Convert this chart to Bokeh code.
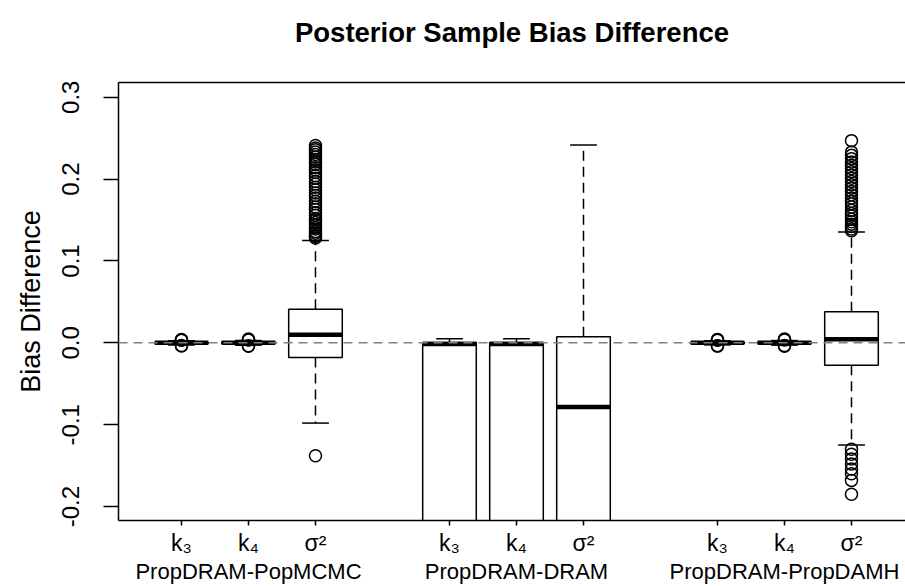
from bokeh.plotting import figure
from bokeh.models import LinearAxis, FixedTicker, Range1d, Span
from bokeh.embed import file_html
from bokeh.resources import INLINE

# ---- data ----
title_text = "Posterior Sample Bias Difference"
groups = ["PropDRAM-PopMCMC", "PropDRAM-DRAM", "PropDRAM-PropDAMH"]
params = ["k\u2083", "k\u2084", "\u03c3\u00b2"]

# order: group1 k3,k4,s2 | group2 k3,k4,s2 | group3 k3,k4,s2
q1 = [-0.0008, -0.0009, -0.018, -0.35, -0.36, -0.26, -0.0008, -0.0009, -0.0274]
med = [0.0, 0.0, 0.010, -0.0015, -0.0015, -0.0785, 0.0, 0.0, 0.0045]
q3 = [0.0008, 0.0009, 0.041, 0.0004, 0.0004, 0.0074, 0.0008, 0.0009, 0.038]
wlo = [-0.0025, -0.0028, -0.098, -0.78, -0.80, -0.62, -0.0025, -0.0028, -0.1248]
whi = [0.0025, 0.0028, 0.125, 0.005, 0.005, 0.2417, 0.0025, 0.0028, 0.1353]

out_g1_k3 = [-0.0038, -0.0033, 0.0032, 0.0036, 0.0041]
out_g1_k4 = [-0.0042, -0.0035, 0.0034, 0.0039, 0.0046]
out_g1_s2 = [-0.138, 0.128, 0.130, 0.131, 0.134, 0.136, 0.139, 0.141, 0.144,
             0.147, 0.150, 0.152, 0.156, 0.159, 0.163, 0.166, 0.170, 0.173,
             0.177, 0.180, 0.183, 0.187, 0.190, 0.194, 0.197, 0.201, 0.204,
             0.208, 0.211, 0.214, 0.218, 0.221, 0.224, 0.227, 0.230, 0.233,
             0.236, 0.238, 0.241]
out_g3_k3 = [-0.0040, -0.0034, 0.0031, 0.0037, 0.0042]
out_g3_k4 = [-0.0041, -0.0033, 0.0035, 0.0040, 0.0047]
out_g3_s2 = [-0.185, -0.168, -0.160, -0.154, -0.148, -0.142, -0.136, -0.130,
             0.137, 0.139, 0.142, 0.145, 0.148, 0.151, 0.155, 0.158, 0.162,
             0.166, 0.170, 0.173, 0.177, 0.181, 0.185, 0.189, 0.193, 0.197,
             0.201, 0.205, 0.209, 0.213, 0.217, 0.221, 0.225, 0.229, 0.233,
             0.247]
outliers = [out_g1_k3, out_g1_k4, out_g1_s2, [], [], [],
            out_g3_k3, out_g3_k4, out_g3_s2]

y_ticks = [-0.2, -0.1, 0.0, 0.1, 0.2, 0.3]
y_tick_labels = ["-0.2", "-0.1", "0.0", "0.1", "0.2", "0.3"]

# ---- positions (boxes 1-3, 5-7, 9-11) ----
pos = [g * 4 + k + 1 for g in range(len(groups)) for k in range(len(params))]
group_pos = [g * 4 + 2 for g in range(len(groups))]
box_w = 0.8

FONT = "Liberation Sans"

p = figure(width=905, height=586, title=None,
           x_range=Range1d(0.06, 11.806), y_range=Range1d(-0.217, 0.318),
           output_backend="svg", toolbar_location=None,
           min_border_left=118, min_border_right=0,
           min_border_top=82, min_border_bottom=10)
p.grid.grid_line_color = None
p.outline_line_color = None
p.background_fill_color = "white"
p.border_fill_color = "white"

# whiskers
p.segment(x0=pos, y0=q3, x1=pos, y1=whi, line_color="black", line_width=1.5, line_dash="10 6")
p.segment(x0=pos, y0=q1, x1=pos, y1=wlo, line_color="black", line_width=1.5, line_dash="10 6")
# caps
p.segment(x0=[x - box_w / 4 for x in pos], y0=whi, x1=[x + box_w / 4 for x in pos], y1=whi,
          line_color="black", line_width=1.5)
p.segment(x0=[x - box_w / 4 for x in pos], y0=wlo, x1=[x + box_w / 4 for x in pos], y1=wlo,
          line_color="black", line_width=1.5)
# boxes
p.quad(left=[x - box_w / 2 for x in pos], right=[x + box_w / 2 for x in pos],
       bottom=q1, top=q3, fill_color="white", line_color="black", line_width=1.5)
# medians
p.segment(x0=[x - box_w / 2 for x in pos], y0=med, x1=[x + box_w / 2 for x in pos], y1=med,
          line_color="black", line_width=4.5)
# outliers
ox, oy = [], []
for x, vals in zip(pos, outliers):
    ox += [x] * len(vals)
    oy += vals
p.scatter(ox, oy, marker="circle", size=12, fill_color=None, line_color="black", line_width=1.5)

# zero reference line
p.add_layout(Span(location=0, dimension="width", line_color="#808080", line_width=1.5,
                  line_dash="9 6"))

# y axis
ya = p.yaxis[0]
ya.ticker = FixedTicker(ticks=y_ticks)
ya.major_label_overrides = {t: l for t, l in zip(y_ticks, y_tick_labels)}
ya.major_label_orientation = "vertical"
ya.major_tick_out = 15
ya.major_tick_in = 0
ya.minor_tick_line_color = None
ya.major_tick_line_width = 1.5
ya.axis_line_width = 1.5
ya.major_label_text_font = FONT
ya.major_label_text_font_size = "24px"
ya.major_label_text_color = "black"
ya.major_label_standoff = 24
ya.axis_label = "Bias Difference"
ya.axis_label_text_font = FONT
ya.axis_label_text_font_style = "normal"
ya.axis_label_text_font_size = "27px"
ya.axis_label_text_color = "black"
ya.axis_label_standoff = 14

# x axis with parameter labels
xa = p.xaxis[0]
xa.ticker = FixedTicker(ticks=pos)
xa.major_label_overrides = {x: params[i % 3] for i, x in enumerate(pos)}
xa.major_tick_out = 5
xa.major_tick_in = 0
xa.minor_tick_line_color = None
xa.major_tick_line_width = 1.5
xa.axis_line_width = 1.5
xa.major_label_text_font = FONT
xa.major_label_text_font_size = "23px"
xa.major_label_text_color = "black"
xa.major_label_standoff = 4

# group labels
ga = LinearAxis(ticker=FixedTicker(ticks=group_pos),
                major_label_overrides={x: g for x, g in zip(group_pos, groups)})
ga.axis_line_color = None
ga.major_tick_line_color = None
ga.minor_tick_line_color = None
ga.major_tick_out = 0
ga.major_tick_in = 0
ga.major_label_text_font = FONT
ga.major_label_text_font_size = "22px"
ga.major_label_text_color = "black"
ga.major_label_standoff = 0
p.add_layout(ga, "below")

# top frame line, carrying the chart title as its axis label
ta = LinearAxis(ticker=FixedTicker(ticks=[]))
ta.major_tick_line_color = None
ta.minor_tick_line_color = None
ta.major_tick_out = 0
ta.major_tick_in = 0
ta.major_label_text_font_size = "0px"
ta.axis_line_width = 1.5
ta.major_label_standoff = 0
ta.axis_label = title_text
ta.axis_label_text_font = FONT
ta.axis_label_text_font_style = "bold"
ta.axis_label_text_font_size = "27.5px"
ta.axis_label_text_color = "black"
ta.axis_label_standoff = 35
p.add_layout(ta, "above")

open("out.html", "w").write(file_html(p, INLINE))
